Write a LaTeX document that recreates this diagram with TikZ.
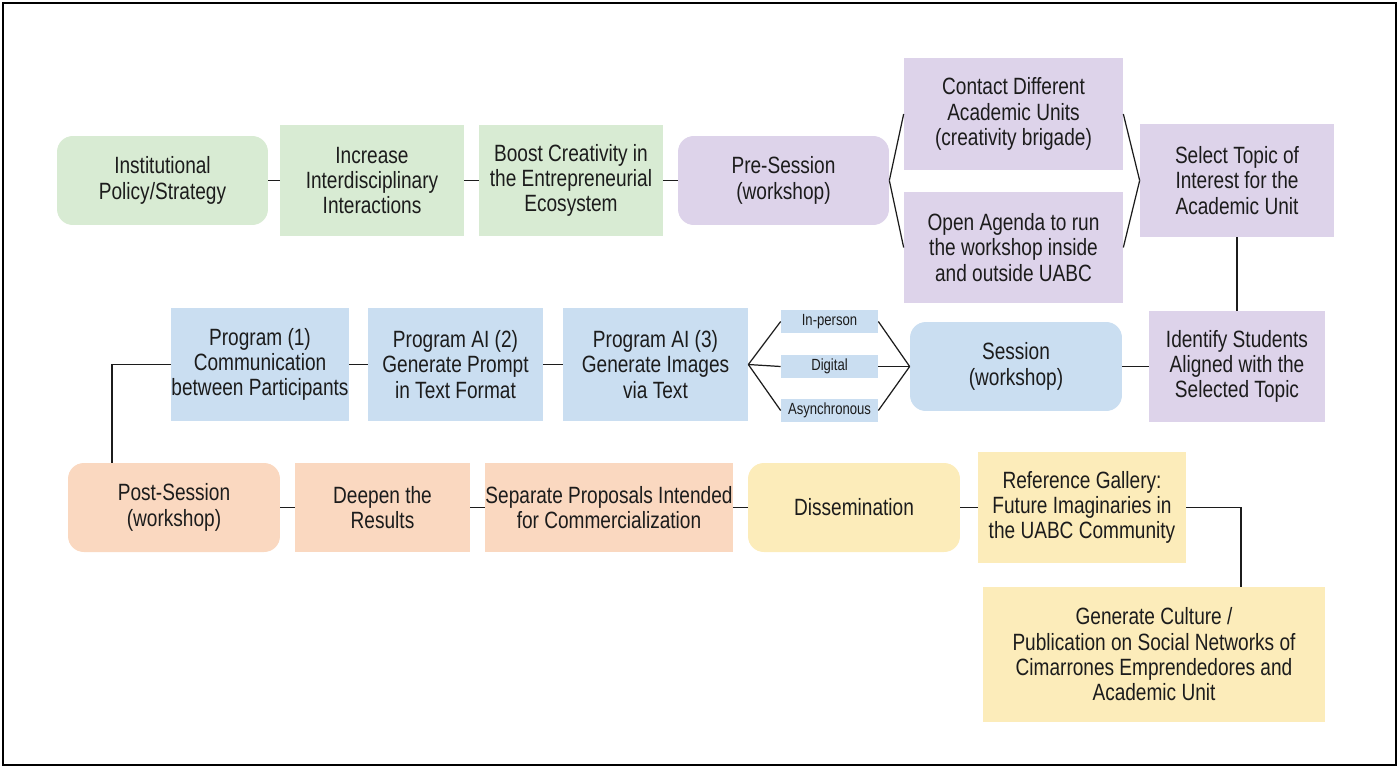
\documentclass[tikz,border=0pt]{standalone}
\usepackage{fontspec}
\setmainfont{Liberation Sans}[FakeStretch=0.81]
\usetikzlibrary{positioning}

\definecolor{greenfill}{RGB}{216,235,211}
\definecolor{purplefill}{RGB}{221,211,234}
\definecolor{bluefill}{RGB}{202,222,241}
\definecolor{orangefill}{RGB}{250,216,192}
\definecolor{yellowfill}{RGB}{252,236,186}
\definecolor{inkgray}{RGB}{28,28,28}

\tikzset{
  box/.style={align=center, inner sep=0pt, text=inkgray,
    font=\fontsize{13.4}{14.4}\selectfont},
  roundbox/.style={box, rounded corners=9pt},
  greenbox/.style={box, fill=greenfill},
  purplebox/.style={box, fill=purplefill},
  bluebox/.style={box, fill=bluefill},
  orangebox/.style={box, fill=orangefill},
  yellowbox/.style={box, fill=yellowfill},
  modebox/.style={bluebox, minimum width=1.94cm, minimum height=0.46cm,
    font=\fontsize{9.2}{10}\selectfont},
  link/.style={draw=inkgray, line width=0.7pt}
}

\begin{document}
\begin{tikzpicture}[x=0.02cm, y=-0.02cm]
  \useasboundingbox (0,0) rectangle (1400,768);
  \draw[line width=0.9pt] (3,3) rectangle (1396,765);

  % row 1: policy to pre-session
  \node[greenbox, roundbox, minimum width=4.22cm, minimum height=1.78cm] (inst) at (162.5,180.5) {Institutional\\Policy/Strategy};
  \node[greenbox, minimum width=3.68cm, minimum height=2.22cm] (increase) at (372,180.5) {Increase\\Interdisciplinary\\Interactions};
  \node[greenbox, minimum width=3.68cm, minimum height=2.22cm] (boost) at (571,180.5) {Boost Creativity in\\the Entrepreneurial\\Ecosystem};
  \node[purplebox, roundbox, minimum width=4.22cm, minimum height=1.78cm] (pre) at (783.5,180.5) {Pre-Session\\(workshop)};
  \node[purplebox, minimum width=4.38cm, minimum height=2.24cm] (contact) at (1013.5,114) {Contact Different\\Academic Units\\(creativity brigade)};
  \node[purplebox, minimum width=4.38cm, minimum height=2.22cm] (agenda) at (1013.5,247.5) {Open Agenda to run\\the workshop inside\\and outside UABC};
  \node[purplebox, minimum width=3.88cm, minimum height=2.26cm] (select) at (1237,180.5) {Select Topic of\\Interest for the\\Academic Unit};
  \node[purplebox, minimum width=3.52cm, minimum height=2.22cm] (identify) at (1237,366.5) {Identify Students\\Aligned with the\\Selected Topic};

  % row 2: session and programs
  \node[bluebox, roundbox, minimum width=4.24cm, minimum height=1.78cm] (session) at (1016,366.5) {Session\\(workshop)};
  \node[modebox] (inperson) at (829.5,321.5) {In-person};
  \node[modebox] (digital) at (829.5,366.5) {Digital};
  \node[modebox] (async) at (829.5,410.5) {Asynchronous};
  \node[bluebox, minimum width=3.70cm, minimum height=2.26cm] (ai3) at (655.5,364.5) {Program AI (3)\\Generate Images\\via Text};
  \node[bluebox, minimum width=3.50cm, minimum height=2.26cm] (ai2) at (455.5,364.5) {Program AI (2)\\Generate Prompt\\in Text Format};
  \node[bluebox, minimum width=3.48cm, minimum height=2.26cm] (prog1) at (260,364.5) {Program (1)\\Communication\\between Participants};

  % row 3: post-session and dissemination
  \node[orangebox, roundbox, minimum width=4.24cm, minimum height=1.78cm] (post) at (174,507.5) {Post-Session\\(workshop)};
  \node[orangebox, minimum width=3.50cm, minimum height=1.78cm] (deepen) at (382.5,507.5) {Deepen the\\Results};
  \node[orangebox, minimum width=4.88cm, minimum height=1.78cm] (separate) at (609,507.5) {Separate Proposals Intended\\for Commercialization};
  \node[yellowbox, roundbox, minimum width=4.24cm, minimum height=1.78cm] (dissem) at (854,507.5) {Dissemination};
  \node[yellowbox, minimum width=4.16cm, minimum height=2.22cm] (gallery) at (1082,507.5) {Reference Gallery:\\Future Imaginaries in\\the UABC Community};
  \node[yellowbox, minimum width=6.84cm, minimum height=2.70cm] (culture) at (1154,654.5) {Generate Culture /\\Publication on Social Networks of\\Cimarrones Emprendedores and\\Academic Unit};

  \coordinate (bendleft) at (112,364.5);
  \coordinate (bendright) at (1241,507.5);

  % connectors
  \draw[link] (inst) -- (increase);
  \draw[link] (increase) -- (boost);
  \draw[link] (boost) -- (pre);
  \draw[link] (pre.east) -- (contact.west);
  \draw[link] (pre.east) -- (agenda.west);
  \draw[link] (contact.east) -- (select.west);
  \draw[link] (agenda.east) -- (select.west);
  \draw[link] (select) -- (identify);
  \draw[link] (identify) -- (session);
  \draw[link] (session.west) -- (inperson.east);
  \draw[link] (session.west) -- (digital.east);
  \draw[link] (session.west) -- (async.east);
  \draw[link] (ai3.east) -- (inperson.west);
  \draw[link] (ai3.east) -- (digital.west);
  \draw[link] (ai3.east) -- (async.west);
  \draw[link] (ai3) -- (ai2);
  \draw[link] (ai2) -- (prog1);
  \draw[link] (prog1.west) -- (bendleft) -- (bendleft |- post.north);
  \draw[link] (post) -- (deepen);
  \draw[link] (deepen) -- (separate);
  \draw[link] (separate) -- (dissem);
  \draw[link] (dissem) -- (gallery);
  \draw[link] (gallery.east) -- (bendright) -- (bendright |- culture.north);
\end{tikzpicture}
\end{document}
